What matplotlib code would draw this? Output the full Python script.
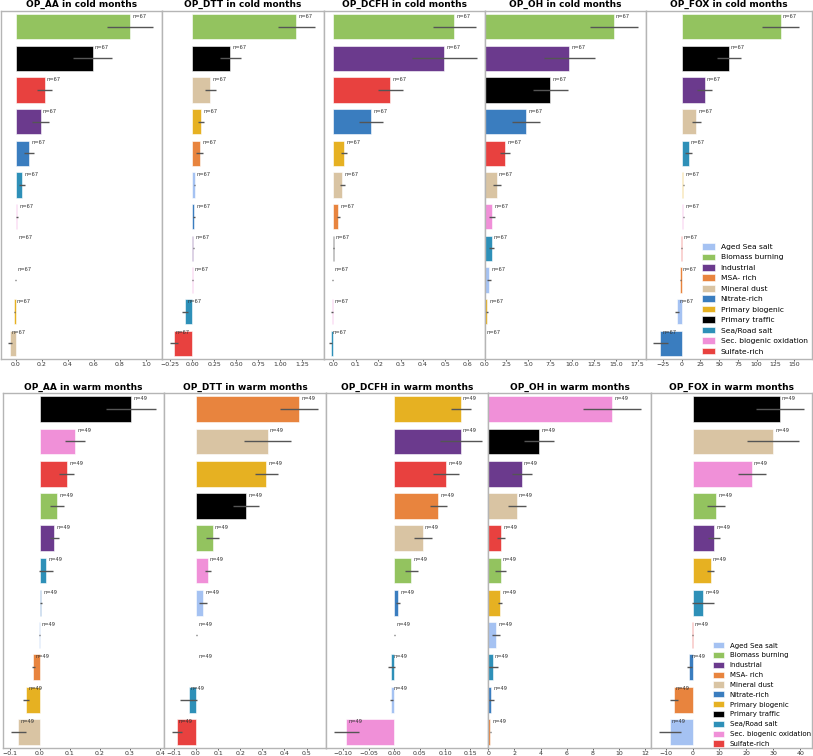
import numpy as np
import matplotlib.pyplot as plt
from matplotlib.patches import Patch
from matplotlib.ticker import MultipleLocator

# source colours
categories = ['Aged Sea salt', 'Biomass burning', 'Industrial', 'MSA- rich', 'Mineral dust',
              'Nitrate-rich', 'Primary biogenic', 'Primary traffic', 'Sea/Road salt',
              'Sec. biogenic oxidation', 'Sulfate-rich']
cat_colors = ['#a5c2f2', '#93c35f', '#6b3a8d', '#e8843e', '#d9c4a3',
              '#3a7dbf', '#e6b122', '#000000', '#2e90b8', '#f090d8', '#e8413f']

# ---- cold months (n=67) ----
aa_cold_src = ['Biomass burning', 'Primary traffic', 'Sulfate-rich', 'Industrial', 'Nitrate-rich',
               'Sea/Road salt', 'Sec. biogenic oxidation', 'Aged Sea salt', 'MSA- rich',
               'Primary biogenic', 'Mineral dust']
aa_cold_val = [0.877, 0.59, 0.22, 0.19, 0.10, 0.046, 0.008, 0.002, -0.003, -0.013, -0.047]
aa_cold_err = [0.18, 0.15, 0.058, 0.065, 0.035, 0.023, 0.004, 0.002, 0.003, 0.004, 0.018]

dtt_cold_src = ['Biomass burning', 'Primary traffic', 'Mineral dust', 'Primary biogenic', 'MSA- rich',
                'Aged Sea salt', 'Nitrate-rich', 'Industrial', 'Sec. biogenic oxidation',
                'Sea/Road salt', 'Sulfate-rich']
dtt_cold_val = [1.18, 0.43, 0.205, 0.099, 0.087, 0.027, 0.02, 0.01, 0.005, -0.08, -0.21]
dtt_cold_err = [0.21, 0.12, 0.066, 0.034, 0.04, 0.008, 0.008, 0.005, 0.004, 0.034, 0.044]

dcfh_cold_src = ['Biomass burning', 'Industrial', 'Sulfate-rich', 'Nitrate-rich', 'Primary biogenic',
                 'Mineral dust', 'MSA- rich', 'Primary traffic', 'Aged Sea salt',
                 'Sec. biogenic oxidation', 'Sea/Road salt']
dcfh_cold_val = [0.54, 0.496, 0.255, 0.168, 0.048, 0.04, 0.022, 0.001, -0.003, -0.006, -0.012]
dcfh_cold_err = [0.095, 0.145, 0.057, 0.052, 0.014, 0.011, 0.006, 0.001, 0.003, 0.003, 0.008]

oh_cold_src = ['Biomass burning', 'Industrial', 'Primary traffic', 'Nitrate-rich', 'Sulfate-rich',
               'Mineral dust', 'Sec. biogenic oxidation', 'Sea/Road salt', 'Aged Sea salt',
               'Primary biogenic', 'MSA- rich']
oh_cold_val = [14.77, 9.7, 7.5, 4.76, 2.36, 1.37, 0.84, 0.8, 0.5, 0.27, 0.03]
oh_cold_err = [2.76, 2.9, 2.0, 1.6, 0.6, 0.45, 0.3, 0.3, 0.2, 0.1, 0.02]

fox_cold_src = ['Biomass burning', 'Primary traffic', 'Industrial', 'Mineral dust', 'Sea/Road salt',
                'Primary biogenic', 'Sec. biogenic oxidation', 'Sulfate-rich', 'MSA- rich',
                'Aged Sea salt', 'Nitrate-rich']
fox_cold_val = [132.0, 63.0, 30.5, 19.7, 9.4, 2.3, 2.0, -0.4, -1.7, -6.2, -28.6]
fox_cold_err = [24.8, 15.7, 10.3, 6.0, 4.5, 1.0, 1.0, 0.3, 0.8, 2.2, 10.3]

# ---- warm months (n=49) ----
aa_warm_src = ['Primary traffic', 'Sec. biogenic oxidation', 'Sulfate-rich', 'Biomass burning',
               'Industrial', 'Sea/Road salt', 'Nitrate-rich', 'Aged Sea salt', 'MSA- rich',
               'Primary biogenic', 'Mineral dust']
aa_warm_val = [0.303, 0.117, 0.09, 0.057, 0.048, 0.02, 0.004, -0.002, -0.022, -0.046, -0.072]
aa_warm_err = [0.083, 0.032, 0.025, 0.024, 0.015, 0.023, 0.003, 0.001, 0.006, 0.01, 0.025]

dtt_warm_src = ['MSA- rich', 'Mineral dust', 'Primary biogenic', 'Primary traffic', 'Biomass burning',
                'Sec. biogenic oxidation', 'Aged Sea salt', 'Industrial', 'Nitrate-rich',
                'Sea/Road salt', 'Sulfate-rich']
dtt_warm_val = [0.466, 0.324, 0.318, 0.226, 0.075, 0.054, 0.032, 0.002, 0.001, -0.033, -0.086]
dtt_warm_err = [0.087, 0.108, 0.051, 0.06, 0.03, 0.015, 0.016, 0.002, 0.001, 0.038, 0.022]

dcfh_warm_src = ['Primary biogenic', 'Industrial', 'Sulfate-rich', 'MSA- rich', 'Mineral dust',
                 'Biomass burning', 'Nitrate-rich', 'Primary traffic', 'Sea/Road salt',
                 'Aged Sea salt', 'Sec. biogenic oxidation']
dcfh_warm_val = [0.131, 0.131, 0.102, 0.087, 0.056, 0.034, 0.008, 0.0003, -0.006, -0.006, -0.094]
dcfh_warm_err = [0.02, 0.041, 0.026, 0.017, 0.018, 0.013, 0.004, 0.0005, 0.007, 0.003, 0.024]

oh_warm_src = ['Sec. biogenic oxidation', 'Primary traffic', 'Industrial', 'Mineral dust',
               'Sulfate-rich', 'Biomass burning', 'Primary biogenic', 'Aged Sea salt',
               'Sea/Road salt', 'Nitrate-rich', 'MSA- rich']
oh_warm_val = [9.47, 3.88, 2.55, 2.17, 0.97, 0.95, 0.92, 0.61, 0.34, 0.21, 0.15]
oh_warm_err = [2.25, 1.12, 0.77, 0.7, 0.27, 0.41, 0.15, 0.32, 0.41, 0.2, 0.05]

fox_warm_src = ['Primary traffic', 'Mineral dust', 'Sec. biogenic oxidation', 'Biomass burning',
                'Industrial', 'Primary biogenic', 'Sea/Road salt', 'Sulfate-rich', 'Nitrate-rich',
                'MSA- rich', 'Aged Sea salt']
fox_warm_val = [32.4, 29.9, 22.0, 8.7, 8.0, 6.7, 3.9, -0.1, -1.2, -6.9, -8.4]
fox_warm_err = [8.8, 9.7, 5.1, 3.4, 2.3, 1.2, 4.2, 0.1, 1.0, 1.5, 4.1]

ops = ['OP_AA', 'OP_DTT', 'OP_DCFH', 'OP_OH', 'OP_FOX']
seasons = ['cold', 'warm']
n_obs = [67, 49]

panels = [
    [(aa_cold_src, aa_cold_val, aa_cold_err), (dtt_cold_src, dtt_cold_val, dtt_cold_err),
     (dcfh_cold_src, dcfh_cold_val, dcfh_cold_err), (oh_cold_src, oh_cold_val, oh_cold_err),
     (fox_cold_src, fox_cold_val, fox_cold_err)],
    [(aa_warm_src, aa_warm_val, aa_warm_err), (dtt_warm_src, dtt_warm_val, dtt_warm_err),
     (dcfh_warm_src, dcfh_warm_val, dcfh_warm_err), (oh_warm_src, oh_warm_val, oh_warm_err),
     (fox_warm_src, fox_warm_val, fox_warm_err)],
]

# layout in pixels
W, H = 813, 756
col_edges = [[1, 162, 323.5, 484.5, 646, 812],
             [2.7, 164.3, 326, 488.3, 650.7, 812]]
row_y = [(10.7, 359), (393, 748)]
xlims = [[(-0.115, 1.123), (-0.344, 1.491), (-0.0438, 0.675), (-0.01, 18.45), (-47.8, 174.1)],
         [(-0.124, 0.414), (-0.143, 0.588), (-0.134, 0.185), (0.0, 12.43), (-15.5, 44.3)]]
steps = [[0.2, 0.25, 0.1, 2.5, 25], [0.1, 0.1, 0.05, 2, 10]]
legend_fs = [5.4, 5.05]
legend_pad = [0.5, 0.05]

color_of = dict(zip(categories, cat_colors))
fig = plt.figure(figsize=(W / 100, H / 100), dpi=100)

for r in range(2):
    y0, y1 = row_y[r]
    for c in range(5):
        x0, x1 = col_edges[r][c], col_edges[r][c + 1]
        ax = fig.add_axes([x0 / W, 1 - y1 / H, (x1 - x0) / W, (y1 - y0) / H])
        src, val, err = panels[r][c]
        pos = np.arange(len(src))
        ax.barh(pos, val, height=0.8, color=[color_of[s] for s in src],
                edgecolor='white', linewidth=0.4)
        ax.errorbar(val, pos, xerr=err, fmt='none', ecolor='#555555', elinewidth=1.0)
        for p, v in zip(pos, val):
            ax.annotate(f'n={n_obs[r]}', (v, p - 0.33), xytext=(1.5, 0), textcoords='offset points',
                        fontsize=3.7, color='#333333', ha='left', va='center')
        ax.set_ylim(len(src) - 0.5, -0.5)
        ax.set_yticks([])
        ax.set_xlim(*xlims[r][c])
        ax.xaxis.set_major_locator(MultipleLocator(steps[r][c]))
        ax.tick_params(axis='x', labelsize=4.5, length=1.5, pad=1, colors='#333333', width=0.6)
        for sp in ax.spines.values():
            sp.set_color('#b5b5b5')
            sp.set_linewidth(1.0)
        ax.set_title(f'{ops[c]} in {seasons[r]} months', fontsize=6.5, fontweight='bold', pad=2.5)
        if c == 4:
            handles = [Patch(facecolor=color_of[k], edgecolor='white', linewidth=0.4, label=k)
                       for k in categories]
            ax.legend(handles=handles, loc='lower right', frameon=False, fontsize=legend_fs[r],
                      handlelength=1.65, handleheight=1.0, labelspacing=0.47,
                      borderaxespad=legend_pad[r], borderpad=0.1, handletextpad=0.8)

fig.savefig('out.png', dpi=100)
